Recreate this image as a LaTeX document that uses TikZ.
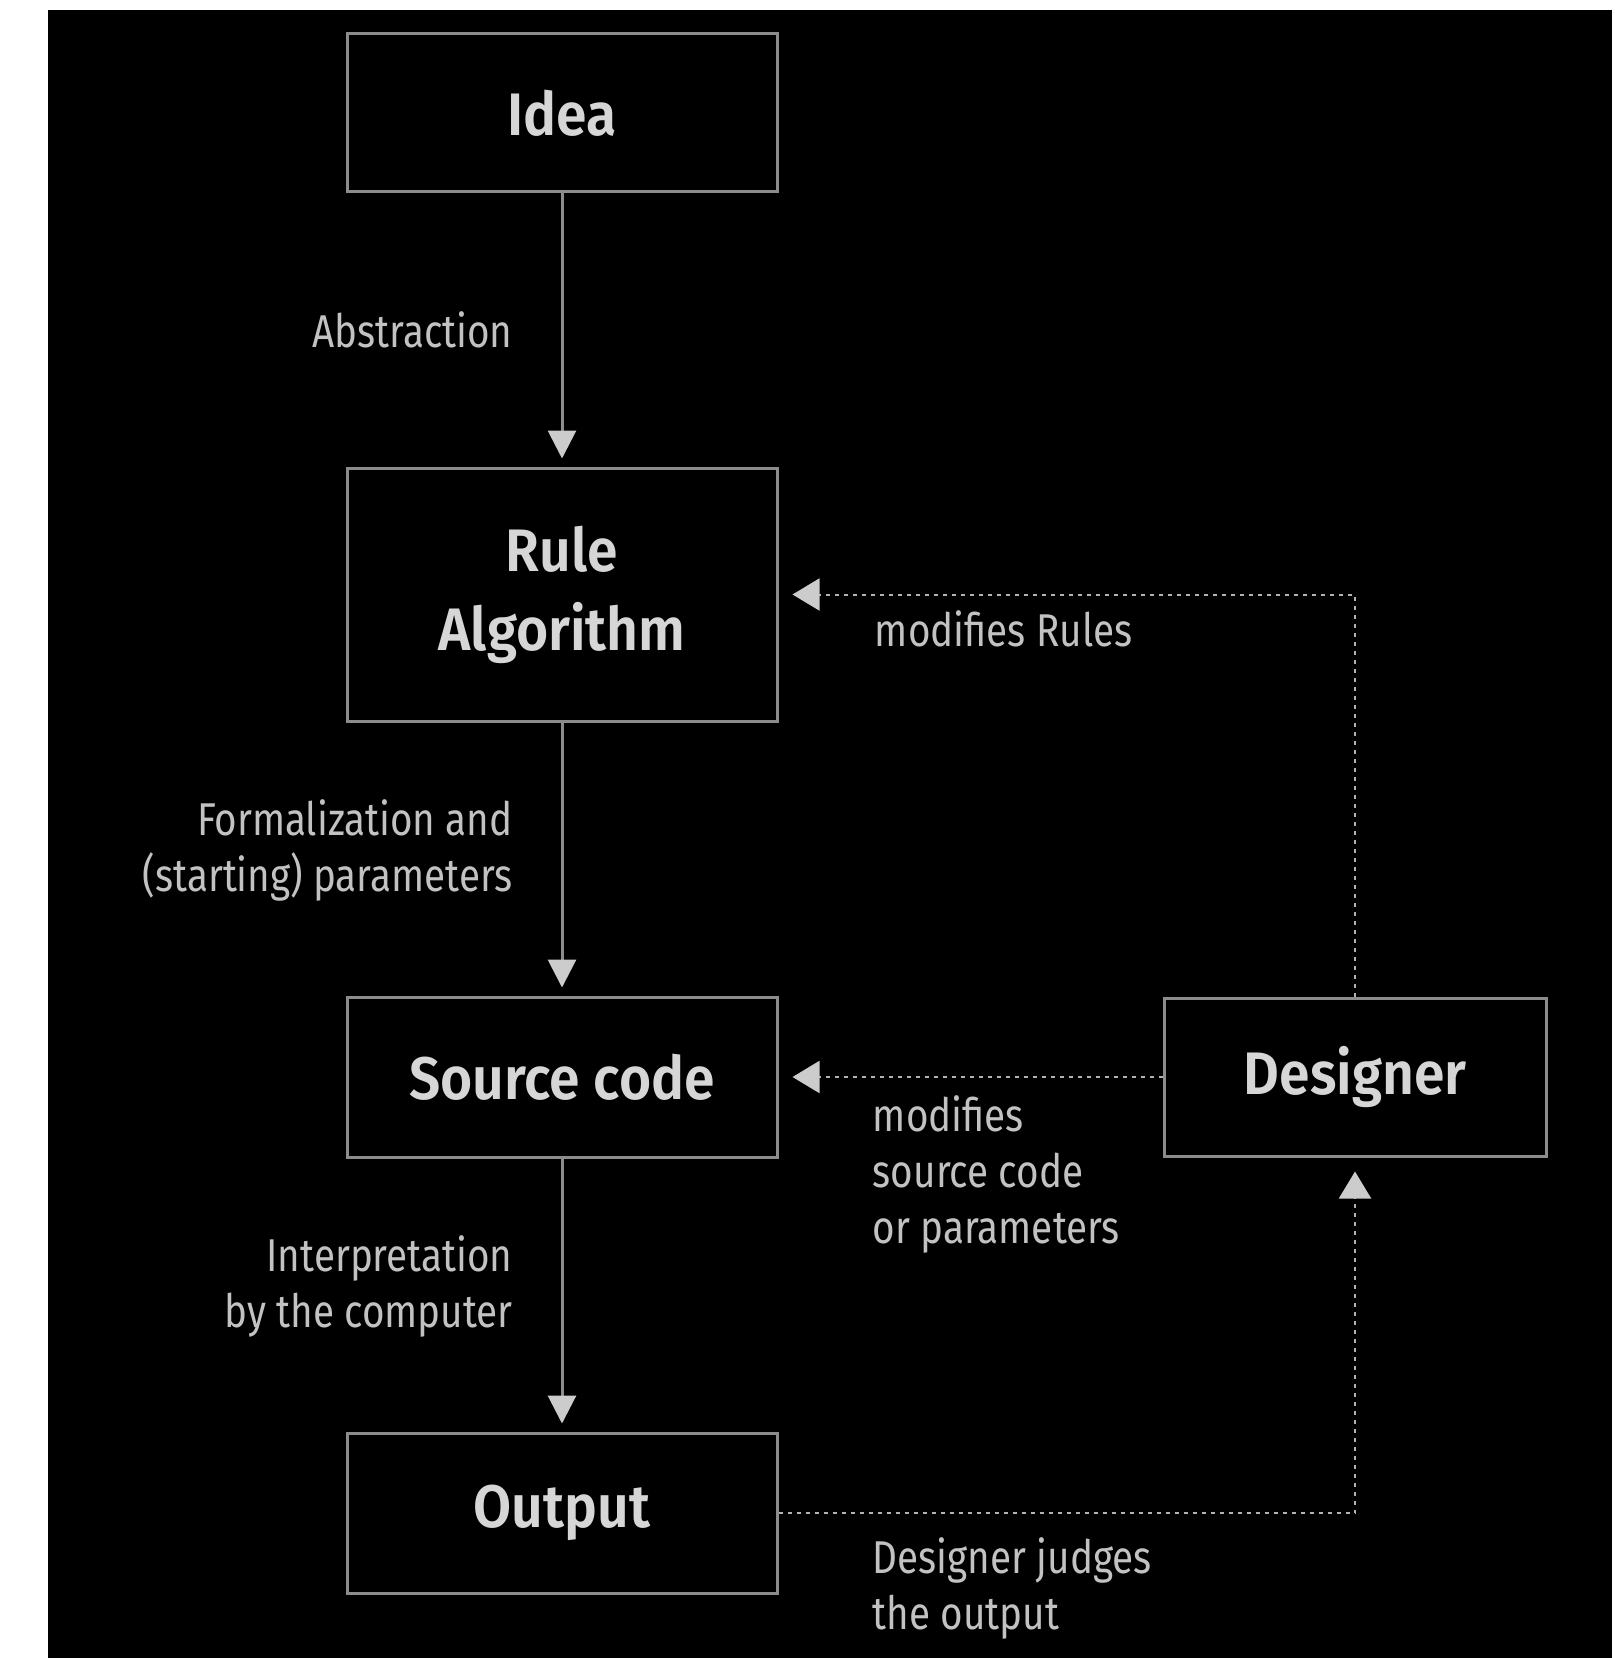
\documentclass[tikz,border=0pt]{standalone}
\usepackage{fontspec}
\setmainfont{Fira Sans}[FakeStretch=0.84]
\newfontfamily\boxfont{Fira Sans SemiBold}[FakeStretch=0.92]
\usepackage{tikz}
\usetikzlibrary{positioning, arrows.meta}

\definecolor{boxline}{gray}{0.55}
\definecolor{boxtext}{gray}{0.84}
\definecolor{lbltext}{gray}{0.76}
\definecolor{arrline}{gray}{0.55}
\definecolor{dashline}{gray}{0.7}
\definecolor{tipfill}{gray}{0.8}

\begin{document}
\begin{tikzpicture}[
      x=0.5pt, y=-0.5pt,
      node distance=136.5pt and 192pt,
      box/.style={draw=boxline, line width=1.5pt, minimum width=215pt, minimum height=79pt,
        align=center, text=boxtext, font=\boxfont\fontsize{30}{39.5}\selectfont},
      lbl/.style={inner sep=0pt, text=lbltext, font=\fontsize{23}{28}\selectfont},
      arr/.style={draw=arrline, line width=1.5pt, shorten >=4pt,
        -{Triangle[length=14pt, width=14pt, color=tipfill]}},
      back/.style={draw=dashline, line width=1pt, dash pattern=on 2pt off 2.5pt, shorten >=7pt,
        -{Triangle[length=13.5pt, width=16pt, color=tipfill]}}
    ]
    \fill[white] (0,0) rectangle (1615,1658);
    \fill[black] (48,10) rectangle (1612,1658);
    \useasboundingbox (0,0) rectangle (1615,1658);

    % main chain
    \node[box] (idea) at (562,113) {Idea};
    \node[box, minimum height=126.5pt, below=of idea] (rule) {Rule\\Algorithm};
    \node[box, minimum height=80pt, below=of rule] (src) {Source code};
    \node[box, minimum height=80pt, below=of src] (out) {Output};
    \node[box, minimum width=191pt, right=of src] (designer) {Designer};

    \draw[arr] (idea) -- node[lbl, left=24pt] (abstr) {Abstraction} (rule);
    \draw[arr] (rule) -- node[lbl, left=24pt, pos=0.47, align=right] (formal) {Formalization and\\(starting) parameters} (src);
    \draw[arr] (src) -- node[lbl, left=24pt, pos=0.47, align=right] (interp) {Interpretation\\by the computer} (out);

    % feedback loop
    \draw[back] (designer.north) |- (rule.east);
    \draw[back] (designer) -- (src);
    \draw[back] (out.east) -| (designer.south);

    \node[lbl, below right=8pt and 48pt of rule.east] (modrules) {modifies Rules};
    \node[lbl, below right=9pt and 47pt of src.east, align=left] (modsrc) {modifies\\source code\\or parameters};
    \node[lbl, below right=12pt and 47pt of out.east, align=left] (judges) {Designer judges\\the output};
  \end{tikzpicture}
\end{document}
